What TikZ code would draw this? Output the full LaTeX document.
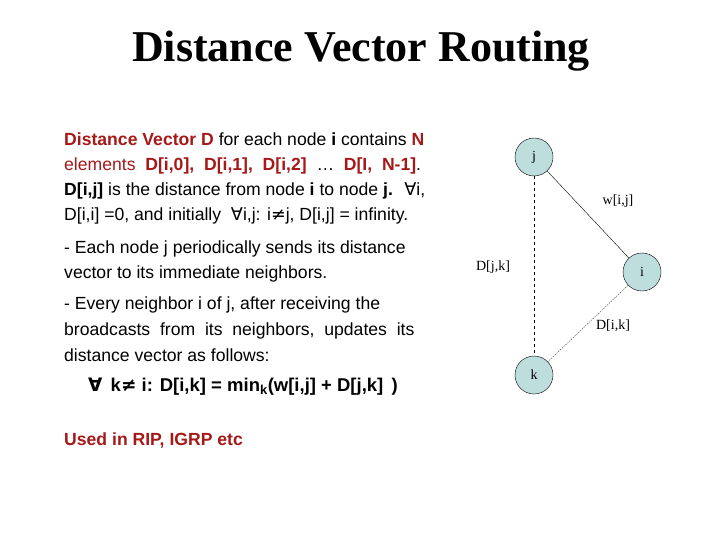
\documentclass[tikz,border=0pt]{standalone}
\usepackage{fontspec}
\setmainfont{Liberation Sans}
\newfontfamily\timesf{Liberation Serif}
\newfontfamily\dvs{DejaVu Sans}
\begin{document}
\begin{tikzpicture}[x=1pt,y=-1pt,
  txt/.style={anchor=base west,inner sep=0pt,font=\fontsize{17.6}{19}\selectfont},
  vert/.style={circle,draw=black,line width=0.4pt,fill={rgb,255:red,190;green,222;blue,222},minimum size=38pt,inner sep=0pt,font=\timesf\fontsize{14}{16}\selectfont},
  elab/.style={font=\timesf\fontsize{14}{16}\selectfont,inner sep=1pt}]
\definecolor{dred}{RGB}{165,25,25}
\useasboundingbox (0,0) rectangle (720,540);
\node[anchor=base,inner sep=0pt,font=\timesf\bfseries\fontsize{44}{48}\selectfont] (title) at (361,62) {Distance Vector Routing};
\node[txt] (l1) at (64,146) {\textcolor{dred}{\textbf{Distance Vector D}} for each node \textbf{i} contains \textcolor{dred}{\textbf{N}}};
\node[txt] (l2) at (64,171) {\textcolor{dred}{elements \ \textbf{D[i,0], \ D[i,1], \ D[i,2]}} \ … \ \textcolor{dred}{\textbf{D[I, \ N-1]}}.};
\node[txt] (l3) at (64,196) {\textbf{D[i,j]} is the distance from node \textbf{i} to node \textbf{j.} \ {\dvs ∀}i,};
\node[txt] (l4) at (64,221) {D[i,i] =0, and initially \ {\dvs ∀}i,j: i{\dvs ≠}j, D[i,j] = infinity.};
\node[txt] (l5) at (64,253) {- Each node j periodically sends its distance};
\node[txt] (l6) at (64,278) {vector to its immediate neighbors.};
\node[txt] (l7) at (64,309) {- Every neighbor i of j, after receiving the};
\node[txt] (l8) at (64,335) {broadcasts \ from \ its \ neighbors, \ updates \ its};
\node[txt] (l9) at (64,361) {distance vector as follows:};
\node[txt,font=\bfseries\fontsize{18.5}{20}\selectfont] (f) at (88,391) {{\dvs ∀} \,k{\dvs ≠} i: D[i,k] = min\textsubscript{k}(w[i,j] + D[j,k] \,)};
\node[txt,font=\bfseries\fontsize{17.6}{19}\selectfont,text=dred] (u) at (64,445) {Used in RIP, IGRP etc};
\node[vert] (j) at (534,157) {j};
\node[vert] (i) at (642,272) {i};
\node[vert] (k) at (534,375) {k};
\draw[line width=0.4pt] (j) -- (i);
\draw[dashed,line width=0.5pt] (j) -- (k);
\draw[dash pattern=on 1.5pt off 1pt,line width=0.4pt,black!70] (i) -- (k);
\node[elab] (wij) at (618,201) {w[i,j]};
\node[elab] (djk) at (493,267) {D[j,k]};
\node[elab] (dik) at (613,326) {D[i,k]};
\end{tikzpicture}
\end{document}
